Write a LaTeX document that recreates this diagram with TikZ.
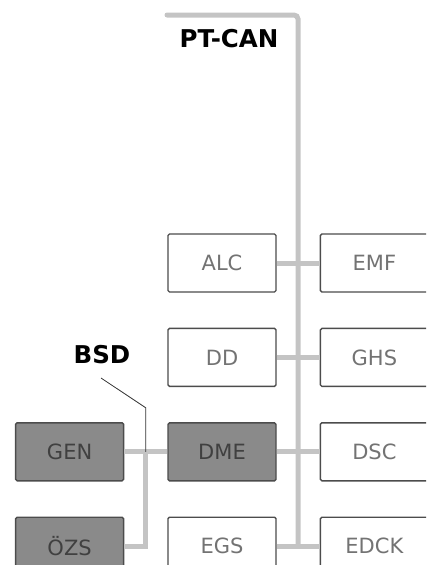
\documentclass[tikz,border=0pt]{standalone}
\usepackage{fontspec}
\setsansfont{DejaVu Sans}
\usepackage{tikz}
\usetikzlibrary{positioning,calc}

\begin{document}
\begin{tikzpicture}[x=1pt,y=-1pt,
  node distance=35pt and 43pt,
  ecu/.style={draw=black!70, line width=1.4pt, rounded corners=1.5pt, fill=white,
    minimum width=108pt, minimum height=58pt, inner sep=0pt,
    font=\sffamily\fontsize{21}{21}\selectfont, text=black!55},
  ecudark/.style={ecu, fill=black!46, text=black!75},
  bus/.style={line width=5pt, draw=black!23},
  buslabel/.style={font=\sffamily\bfseries\fontsize{24.5}{24.5}\selectfont}]
\clip (0,0) rectangle (426,565);
% modules on the PT-CAN
\node[ecu] (alc) at (222,263) {ALC};
\node[ecu, right=of alc] (emf) {EMF};
\node[ecu, below=of alc] (dd) {DD};
\node[ecu, right=of dd] (ghs) {GHS};
\node[ecudark, below=of dd] (dme) {DME};
\node[ecu, right=of dme] (dsc) {DSC};
\node[ecu, below=of dme] (egs) {EGS};
\node[ecu, right=of egs] (edck) {EDCK};
% modules on the BSD
\node[ecudark, left=of dme] (gen) {GEN};
\node[ecudark, left=of egs] (ozs) {ÖZS};
% PT-CAN bus
\coordinate (ptcan start) at (167,15);
\coordinate (ptcan corner) at (298,15);
\draw[bus, line cap=round, rounded corners=4pt] (ptcan start) -- (ptcan corner)
  -- (ptcan corner |- egs.east);
\draw[bus] (alc) -- (emf);
\draw[bus] (dd) -- (ghs);
\draw[bus] (dme) -- (dsc);
\draw[bus] (egs) -- (edck);
\node[buslabel] (ptcan) at (229,39) {PT-CAN};
% BSD bus
\coordinate (bsd tee) at ($(gen.east)!0.5!(dme.west)$);
\draw[bus] (gen) -- (dme);
\draw[bus] (bsd tee) |- (ozs.east);
\coordinate (bsd bend) at ($(bsd tee)+(0,-44)$);
\coordinate (bsd pin) at (101,378);
\draw[black!80, line width=0.8pt] (bsd tee) -- (bsd bend) -- (bsd pin);
\node[buslabel] (bsd) at (102,355) {BSD};
\end{tikzpicture}
\end{document}
